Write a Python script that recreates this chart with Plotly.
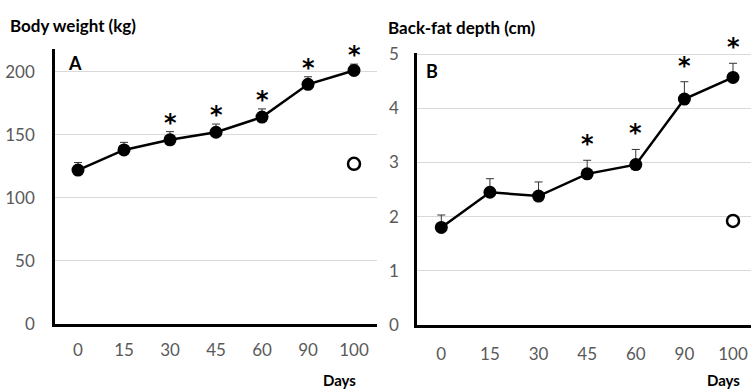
import plotly.graph_objects as go

days = ["0", "15", "30", "45", "60", "90", "100"]

bw_mean = [122, 138, 146, 152, 164, 190, 201]
bw_err = [6, 6, 6.5, 6.5, 6.5, 6, 5]
bw_sig = [False, False, True, True, True, True, True]
bw_open_day = ["100"]
bw_open_val = [127]

bf_mean = [1.80, 2.45, 2.38, 2.79, 2.96, 4.17, 4.57]
bf_err = [0.23, 0.25, 0.26, 0.25, 0.28, 0.32, 0.26]
bf_sig = [False, False, False, True, True, True, True]
bf_open_day = ["100"]
bf_open_val = [1.92]

FONT = "Lato, 'Open Sans', sans-serif"
TICKC = "#595959"

fig = go.Figure()

def add_panel(xa, ya, mean, err, sig, oday, oval, star_shift):
    fig.add_trace(go.Scatter(
        x=days, y=mean, xaxis=xa, yaxis=ya, mode="lines+markers",
        line=dict(color="black", width=2.5),
        marker=dict(color="black", size=13),
        error_y=dict(type="data", symmetric=False, array=err,
                     arrayminus=[0] * len(err), color="#333333",
                     thickness=1, width=4),
        showlegend=False, hoverinfo="skip"))
    fig.add_trace(go.Scatter(
        x=oday, y=oval, xaxis=xa, yaxis=ya, mode="markers",
        marker=dict(color="white", size=12, line=dict(color="black", width=2.5)),
        showlegend=False, hoverinfo="skip"))
    for i, (m, e, s) in enumerate(zip(mean, err, sig)):
        if s:
            fig.add_annotation(x=i, y=m + e, xref=xa, yref=ya, text="<b>*</b>",
                               showarrow=False, yanchor="middle", yshift=star_shift,
                               font=dict(family="DejaVu Sans", size=24, color="black"))

add_panel("x", "y", bw_mean, bw_err, bw_sig, bw_open_day, bw_open_val, 9)
add_panel("x2", "y2", bf_mean, bf_err, bf_sig, bf_open_day, bf_open_val, 16)

axis_common = dict(showline=True, linecolor="black", linewidth=2.5, automargin=False,
                   tickfont=dict(family=FONT, size=17, color=TICKC), ticks="")

fig.update_layout(
    width=751, height=389, margin=dict(l=0, r=0, t=0, b=0),
    paper_bgcolor="white", plot_bgcolor="white",
    xaxis=dict(domain=[55 / 751, 377 / 751], type="category", range=[-0.5, 6.5],
               showgrid=False, anchor="y", ticklabelstandoff=9, **axis_common),
    yaxis=dict(domain=[65 / 389, 340 / 389], range=[0, 218], tickvals=[0, 50, 100, 150, 200],
               showgrid=True, gridcolor="#d9d9d9", gridwidth=1, zeroline=False,
               anchor="x", ticklabelstandoff=14, **axis_common),
    xaxis2=dict(domain=[417 / 751, 1.0], type="category", range=[-0.5, 6.37],
                showgrid=False, anchor="y2", ticklabelstandoff=12, **axis_common),
    yaxis2=dict(domain=[64 / 389, 336 / 389], range=[0, 5.02], tickvals=[0, 1, 2, 3, 4, 5],
                showgrid=True, gridcolor="#d9d9d9", gridwidth=1, zeroline=False,
                anchor="x2", ticklabelstandoff=12, **axis_common),
)

def ann(text, x, y, size, bold=True, xanchor="left"):
    fig.add_annotation(text=("<b>%s</b>" % text) if bold else text, x=x, y=y,
                       xref="paper", yref="paper", xanchor=xanchor, yanchor="middle",
                       showarrow=False, font=dict(family=FONT, size=size, color="black"))

ann("Body weight (kg)", 8 / 751, 1 - 26 / 389, 17)
ann("Back-fat depth (cm)", 386 / 751, 1 - 27 / 389, 17)
ann("Days", 358 / 751, 1 - 380 / 389, 15, xanchor="right")
ann("Days", 742 / 751, 1 - 380 / 389, 15, xanchor="right")
ann("A", 66 / 751, 1 - 63 / 389, 18)
ann("B", 424 / 751, 1 - 71 / 389, 18)

fig.write_html("out.html", config={"displayModeBar": False},
               post_script="document.body.style.margin='0';document.body.style.overflow='hidden';")
